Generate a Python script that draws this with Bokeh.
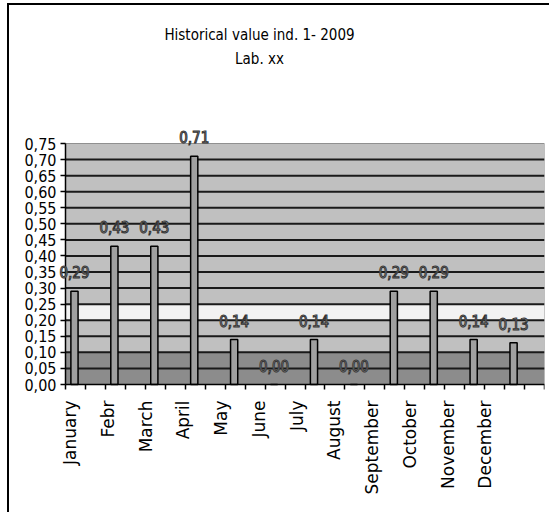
import numpy as np
from bokeh.plotting import figure
from bokeh.models import (FixedTicker, CustomJSTickFormatter, ColumnDataSource,
                          LabelSet, Label, Range1d)
from bokeh.core.properties import value
from bokeh.embed import file_html
from bokeh.resources import INLINE

# ---- data ----
months = ["January", "Febr", "March", "April", "May", "June", "July",
          "August", "September", "October", "November", "December"]
values = [0.29, 0.43, 0.43, 0.71, 0.14, 0.00, 0.14, 0.00, 0.29, 0.29, 0.14, 0.13]
y_ticks = [round(0.05 * i, 2) for i in range(16)]
band_bottoms = [0.00, 0.10, 0.20, 0.25]
band_tops = [0.10, 0.20, 0.25, 0.75]
band_colors = ["#8c8c8c", "#c0c0c0", "#f2f2f2", "#c0c0c0"]
title_lines = ["Historical value ind. 1- 2009", "Lab. xx"]

NARROW = "'Liberation Sans Narrow', 'DejaVu Sans Condensed', 'Roboto Condensed', Roboto, sans-serif"

n = len(months)
y_max = 0.75
bar_x = [i + 0.225 for i in range(n)]
label_pos = [0.12 + 0.945 * i for i in range(n)]
value_text = [f"{v:.2f}".replace(".", ",") for v in values]

# layout (pixels)
W, H = 542, 509
plot_w_px = 479               # pixels of the plot area (12 categories)
px_per_x = plot_w_px / n
left_px = 56                  # pixels left of the plot area inside the canvas
x_left = -left_px / px_per_x
frame_h_axis = 241            # pixels between 0 and 0.75
px_per_unit = frame_h_axis / y_max
space_above = 138             # pixels between top of canvas and 0.75 line
y_top = y_max + space_above / px_per_unit
space_below = H - space_above - frame_h_axis
y_bottom = -space_below / px_per_unit

p = figure(width=W, height=H, x_range=Range1d(x_left, n), y_range=Range1d(y_bottom, y_top),
           output_backend="svg", toolbar_location=None, title=None,
           min_border_left=0, min_border_right=7, min_border_top=0, min_border_bottom=0)
p.margin = (3, 0, 0, 7)
p.styles = {"border-left": "2px solid black", "border-top": "2px solid black"}
p.background_fill_color = "white"
p.border_fill_color = "white"
p.outline_line_color = None
p.grid.visible = False

# background bands of the plot area
p.quad(left=0, right=n, bottom=band_bottoms, top=band_tops, fill_color=band_colors,
       line_color=None)
p.quad(left=0, right=n, bottom=0, top=y_max, fill_color=None, line_color="#909090",
       line_width=1)

# horizontal gridlines
grid_y = y_ticks[1:-1]
p.segment(x0=[0] * len(grid_y), x1=[n] * len(grid_y), y0=grid_y, y1=grid_y,
          line_color="#1a1a1a", line_width=2)

# bars
src = ColumnDataSource(dict(x=bar_x, top=values, txt=value_text))
p.vbar(x="x", top="top", width=0.18, source=src, fill_color="#a0a0a0",
       line_color="black", line_width=1.5)

labels = LabelSet(x="x", y="top", text="txt", source=src, y_offset=13,
                  text_align="center", text_baseline="alphabetic",
                  text_font=value(NARROW), text_font_size="15px", text_color="#3a3a3a")
try:
    labels.text_outline_color = "#333333"
    labels.text_color = "#cccccc"
except Exception:
    pass
p.add_layout(labels)

# y axis, drawn at x = 0 of the data
ya = p.yaxis[0]
ya.fixed_location = 0
ya.bounds = (0, y_max)
ya.ticker = FixedTicker(ticks=y_ticks)
ya.formatter = CustomJSTickFormatter(code="return tick.toFixed(2).replace('.', ',');")
ya.major_tick_out = 5
ya.major_tick_in = 0
ya.minor_tick_out = 0
ya.minor_tick_in = 0
ya.major_label_standoff = 4
ya.major_label_text_font = NARROW
ya.major_label_text_font_size = "16px"
ya.major_label_text_color = "black"
ya.axis_line_color = "black"
ya.axis_line_width = 1.5
ya.major_tick_line_width = 1.5

# x axis, drawn at y = 0 of the data
xa = p.xaxis[0]
xa.fixed_location = 0
xa.bounds = (0, n)
xa.ticker = FixedTicker(ticks=label_pos, minor_ticks=[0.5 * k for k in range(2 * n + 1)])
xa.formatter = CustomJSTickFormatter(args=dict(names=months),
                                     code="const i = Math.round((tick - 0.12) / 0.945); return names[i];")
xa.major_tick_out = 0
xa.major_tick_in = 0
xa.minor_tick_out = 5
xa.minor_tick_in = 0
xa.minor_tick_line_color = "black"
xa.minor_tick_line_width = 1.5
xa.major_label_orientation = np.pi / 2
xa.major_label_standoff = 11
xa.major_label_text_font = "DejaVu Sans"
xa.major_label_text_font_size = "17px"
xa.major_label_text_color = "black"
xa.axis_line_color = "black"
xa.axis_line_width = 1.5

# titles (two centred lines above the plot area)
title_x = 4.86
title_base_px = [109, 85]     # baseline distance above the 0.75 line, pixels
for txt, d in zip(title_lines, title_base_px):
    p.add_layout(Label(x=title_x, y=y_max + d / px_per_unit, text=txt, text_align="center",
                       text_baseline="alphabetic", text_font=NARROW, text_font_size="15px",
                       text_color="black"))

open("out.html", "w").write(file_html(p, INLINE))
